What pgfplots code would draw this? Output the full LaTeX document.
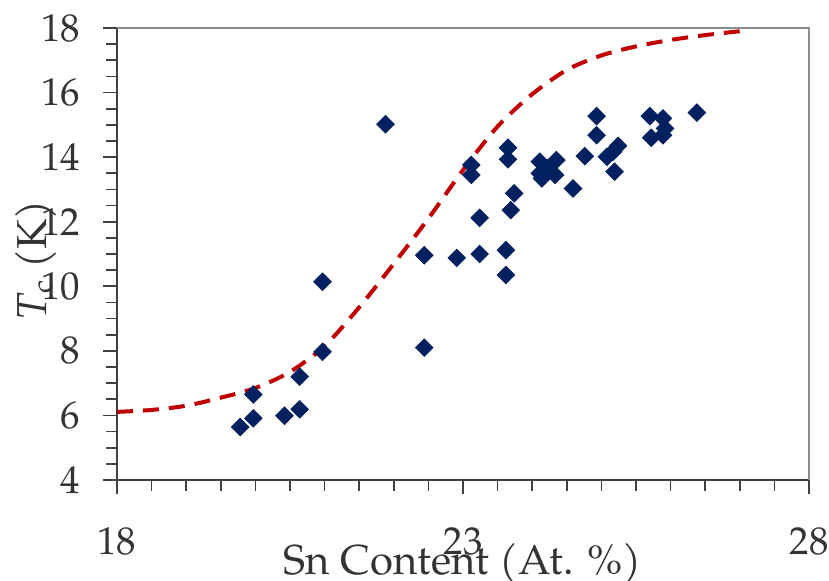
\documentclass[border=0pt]{standalone}
\usepackage{pgfplots}
\pgfplotsset{compat=1.18}
\usepackage{fontspec}
\setmainfont{TeX Gyre Pagella}
\definecolor{navy}{HTML}{002060}
\definecolor{fitred}{HTML}{C00000}
\definecolor{axisdark}{HTML}{404040}
\definecolor{axisgray}{HTML}{8C8C8C}

\pgfplotstableread{
x y
19.78 5.64
19.97 5.91
19.97 6.65
20.42 5.99
20.64 6.19
20.64 7.20
20.97 7.97
20.97 10.14
21.88 15.02
22.44 8.10
22.44 10.96
22.91 10.88
23.12 13.76
23.12 13.45
23.24 12.12
23.24 11.00
23.62 11.12
23.62 10.35
23.65 14.29
23.65 13.93
23.69 12.36
23.74 12.88
24.11 13.86
24.35 13.91
24.11 13.50
24.14 13.34
24.23 13.66
24.33 13.45
24.59 13.03
24.76 14.03
24.93 15.27
24.93 14.68
25.08 14.01
25.17 14.17
25.24 14.35
25.19 13.55
25.72 14.60
25.70 15.27
25.89 15.20
25.89 14.68
25.92 14.89
26.38 15.38
}\measured

\pgfplotstableread{
x y
18.0 6.11
18.5 6.17
19.0 6.30
19.5 6.55
20.0 6.85
20.5 7.35
21.0 8.15
21.5 9.35
22.0 10.70
22.5 12.10
23.0 13.60
23.5 14.95
24.0 15.95
24.5 16.70
25.0 17.15
25.5 17.43
26.0 17.63
26.5 17.78
27.0 17.90
}\fit

\begin{document}
\begin{tikzpicture}
\useasboundingbox (0,0) rectangle (414.5bp,290.5bp);
\begin{axis}[
  at={(58.5bp,50.5bp)}, anchor=south west,
  scale only axis,
  width=346bp, height=226bp,
  xmin=18, xmax=28, ymin=4, ymax=18,
  axis x line*=bottom, axis y line*=left,
  axis line style={axisdark, line width=0.9bp},
  xtick={18,23,28}, minor x tick num=9,
  ytick={4,6,...,18}, minor y tick num=3,
  tick align=outside,
  major tick length=7bp, minor tick length=5.5bp,
  tick style={axisdark, line width=0.8bp},
  /pgf/number format/assume math mode=true,
  ticklabel style={font=\fontsize{19.5}{22}\selectfont, text=black!80},
  xticklabel style={anchor=base, yshift=-30bp},
  yticklabel style={anchor=east, xshift=-8bp},
  xlabel={Sn Content (At. \%)},
  ylabel={\textit{T}\textsubscript{c} (K)},
  label style={font=\fontsize{21}{24}\selectfont, text=black!80},
  xlabel style={at={(axis description cs:0.5,-0.208)}, anchor=base},
  ylabel style={at={(axis description cs:-0.1026,0.487)}, anchor=base},
  clip=false,
]
\addplot[fitred, line width=2bp, dash pattern=on 8bp off 5bp, smooth, no marks] table {\fit};
\addplot[only marks, mark=square*, mark size=3.1bp, mark options={rotate=45, fill=navy, draw=navy}] table {\measured};
\draw[axisgray, line width=0.9bp] (rel axis cs:0,1) -- (rel axis cs:1,1) -- (rel axis cs:1,0);
\end{axis}
\end{tikzpicture}
\end{document}
